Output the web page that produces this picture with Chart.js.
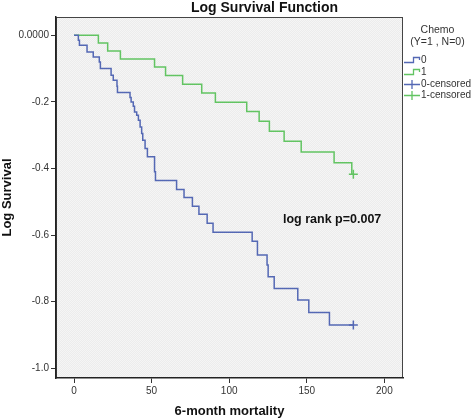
<!DOCTYPE html>
<html>
<head>
<meta charset="utf-8">
<script src="https://cdn.jsdelivr.net/npm/chart.js@4.4.1/dist/chart.umd.min.js"></script>
<style>
  html, body { margin: 0; padding: 0; background: #ffffff; }
  #wrap { position: relative; width: 473px; height: 419px; font-family: "Liberation Sans", Arial, sans-serif; }
  #wrap canvas { position: absolute; left: 0; top: 0; }
  .ov { position: absolute; white-space: nowrap; }
  #title { left: 56px; width: 417px; top: 0px; text-align: center; font-weight: bold; font-size: 14px; line-height: 14px; color: #111; }
  #legTitle { left: 402px; width: 71px; top: 24px; text-align: center; font-size: 10.5px; line-height: 11.5px; color: #333; }
  .legItem { position: absolute; left: 403px; width: 70px; height: 12px; font-size: 10px; line-height: 12px; color: #333; white-space: nowrap; }
  .legItem canvas { position: absolute; left: 0; top: 0; }
  .legItem span { position: absolute; left: 18px; top: 0; white-space: nowrap; }
  #logrank { left: 283px; top: 212px; font-weight: bold; font-size: 12.5px; line-height: 14px; color: #111; }
</style>
</head>
<body>
<div id="wrap">
  <canvas id="c" width="473" height="419"></canvas>
  <div id="title" class="ov">Log Survival Function</div>
  <div id="legTitle" class="ov">Chemo<br>(Y=1 , N=0)</div>
  <div id="legend"></div>
  <div id="logrank" class="ov">log rank p=0.007</div>
</div>
<script>
// ---- data ----
const chemoNoTimes = [0, 2.8, 3.5, 8.4, 12.4, 16.3, 17.0, 23.9, 25.3, 27.7, 28.0, 36.1, 36.8, 38.2, 39.0, 40.4, 41.5, 42.6, 43.6, 44.3, 45.8, 47.3, 51.9, 52.5, 66.1, 70.9, 76.3, 80.5, 85.8, 89.6, 114.8, 118.2, 124.4, 125.1, 129.0, 144.2, 151.3, 164.6, 180];
const chemoNoLogSurv = [0, -0.015, -0.030, -0.050, -0.065, -0.080, -0.100, -0.120, -0.135, -0.153, -0.172, -0.187, -0.200, -0.213, -0.230, -0.240, -0.255, -0.275, -0.295, -0.315, -0.340, -0.365, -0.410, -0.436, -0.463, -0.487, -0.513, -0.537, -0.564, -0.591, -0.618, -0.660, -0.690, -0.725, -0.760, -0.795, -0.832, -0.870, -0.870];
const chemoYesTimes = [0, 15.7, 21.7, 29.9, 51.9, 59.0, 70.0, 82.3, 91.1, 111.3, 119.3, 125.9, 135.4, 146.4, 167.6, 179.0, 180];
const chemoYesLogSurv = [0, -0.023, -0.047, -0.071, -0.095, -0.121, -0.147, -0.173, -0.201, -0.229, -0.258, -0.288, -0.318, -0.350, -0.383, -0.417, -0.417];
const censoredNoTimes = [180];
const censoredNoLogSurv = [-0.870];
const censoredYesTimes = [180];
const censoredYesLogSurv = [-0.417];
const seriesLabels = ['0', '1', '0-censored', '1-censored'];
const xTickValues = [0, 50, 100, 150, 200];
const yTickValues = [0, -0.2, -0.4, -0.6, -0.8, -1.0];
const yTickLabels = ['0.0000', '-0.2', '-0.4', '-0.6', '-0.8', '-1.0'];

const BLUE = '#5468b4';
const GREEN = '#62c462';
const FONT = '"Liberation Sans", Arial, sans-serif';

const toPts = (xs, ys) => xs.map((x, i) => ({ x: x, y: ys[i] }));

function makeTexture(ctx) {
  const p = document.createElement('canvas');
  p.width = 2; p.height = 2;
  const g = p.getContext('2d');
  g.fillStyle = '#ececec'; g.fillRect(0, 0, 2, 2);
  g.fillStyle = '#f5f5f5'; g.fillRect(0, 0, 1, 1); g.fillRect(1, 1, 1, 1);
  return ctx.createPattern(p, 'repeat');
}

const bgPlugin = {
  id: 'plotBg',
  beforeDraw(chart) {
    const a = chart.chartArea, ctx = chart.ctx;
    ctx.save();
    ctx.fillStyle = makeTexture(ctx);
    ctx.fillRect(a.left, a.top, a.right - a.left, a.bottom - a.top);
    ctx.strokeStyle = '#444';
    ctx.lineWidth = 1;
    ctx.strokeRect(a.left + 0.5, a.top + 0.5, a.right - a.left - 1, a.bottom - a.top - 1);
    ctx.restore();
  }
};

new Chart(document.getElementById('c'), {
  type: 'scatter',
  data: {
    datasets: [
      { label: seriesLabels[0], data: toPts(chemoNoTimes, chemoNoLogSurv), showLine: true, stepped: 'before',
        borderColor: BLUE, borderWidth: 1.5, pointRadius: 0, fill: false },
      { label: seriesLabels[1], data: toPts(chemoYesTimes, chemoYesLogSurv), showLine: true, stepped: 'before',
        borderColor: GREEN, borderWidth: 1.5, pointRadius: 0, fill: false },
      { label: seriesLabels[2], data: toPts(censoredNoTimes, censoredNoLogSurv), showLine: false,
        pointStyle: 'cross', pointRadius: 4.5, borderColor: BLUE, borderWidth: 1.5 },
      { label: seriesLabels[3], data: toPts(censoredYesTimes, censoredYesLogSurv), showLine: false,
        pointStyle: 'cross', pointRadius: 4.5, borderColor: GREEN, borderWidth: 1.5 }
    ]
  },
  options: {
    responsive: false,
    animation: false,
    layout: { padding: { top: 17, right: 70, left: 0, bottom: 0 } },
    plugins: { legend: { display: false }, tooltip: { enabled: false }, title: { display: false } },
    scales: {
      x: {
        type: 'linear', min: -11.6, max: 212,
        afterBuildTicks: (s) => { s.ticks = xTickValues.map(v => ({ value: v })); },
        afterFit: (s) => { s.height = 41; },
        grid: { drawOnChartArea: false, drawTicks: true, tickLength: 5, color: '#333', lineWidth: 1 },
        border: { display: true, color: '#222', width: 1.5 },
        ticks: { font: { family: FONT, size: 10 }, color: '#333', padding: 2, maxRotation: 0 },
        title: { display: true, text: '6-month mortality', font: { family: FONT, size: 13, weight: 'bold' }, color: '#111', padding: 0 }
      },
      y: {
        type: 'linear', min: -1.029, max: 0.055,
        afterBuildTicks: (s) => { s.ticks = yTickValues.map(v => ({ value: v })); },
        afterFit: (s) => { s.width = 56; },
        grid: { drawOnChartArea: false, drawTicks: true, tickLength: 5, color: '#333', lineWidth: 1 },
        border: { display: true, color: '#222', width: 1.5 },
        ticks: { font: { family: FONT, size: 10 }, color: '#333', padding: 2,
          callback: (v, i) => yTickLabels[i] },
        title: { display: true, text: 'Log Survival', font: { family: FONT, size: 13, weight: 'bold' }, color: '#111', padding: 0 }
      }
    }
  },
  plugins: [bgPlugin]
});

// ---- legend built from the series labels ----
const legend = document.getElementById('legend');
const legendColors = [BLUE, GREEN, BLUE, GREEN];
const legendTops = [54, 66, 77.5, 89];
seriesLabels.forEach((lab, i) => {
  const item = document.createElement('div');
  item.className = 'legItem';
  item.style.top = legendTops[i] + 'px';
  const cv = document.createElement('canvas');
  cv.width = 18; cv.height = 12;
  const g = cv.getContext('2d');
  g.strokeStyle = legendColors[i];
  g.lineWidth = 1.3;
  g.beginPath();
  if (i < 2) {
    g.moveTo(1, 8.5); g.lineTo(10.5, 8.5); g.lineTo(10.5, 3.5); g.lineTo(16.5, 3.5); g.lineTo(16.5, 6);
  } else {
    g.moveTo(1, 6.5); g.lineTo(17, 6.5); g.moveTo(9, 2); g.lineTo(9, 11);
  }
  g.stroke();
  const sp = document.createElement('span');
  sp.textContent = lab;
  item.appendChild(cv);
  item.appendChild(sp);
  legend.appendChild(item);
});
</script>
</body>
</html>
